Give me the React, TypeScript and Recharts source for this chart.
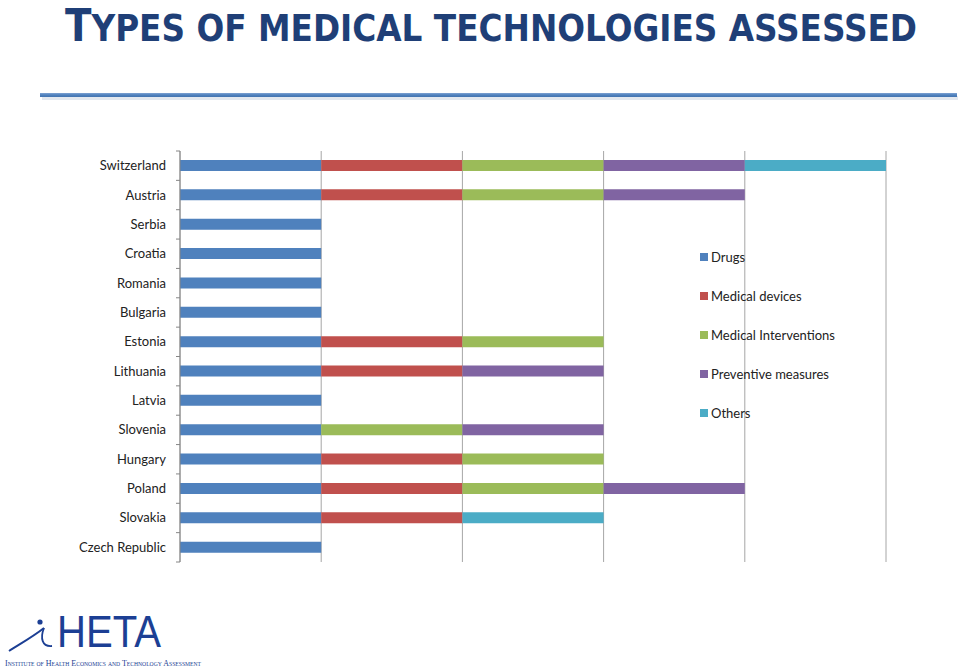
import React from "react";
import { BarChart, Bar, XAxis, YAxis, CartesianGrid } from "recharts";

const countries = [
  "Switzerland", "Austria", "Serbia", "Croatia", "Romania", "Bulgaria", "Estonia",
  "Lithuania", "Latvia", "Slovenia", "Hungary", "Poland", "Slovakia", "Czech Republic",
];
const drugs = [1, 1, 1, 1, 1, 1, 1, 1, 1, 1, 1, 1, 1, 1];
const medicalDevices = [1, 1, 0, 0, 0, 0, 1, 1, 0, 0, 1, 1, 1, 0];
const medicalInterventions = [1, 1, 0, 0, 0, 0, 1, 0, 0, 1, 1, 1, 0, 0];
const preventiveMeasures = [1, 1, 0, 0, 0, 0, 0, 1, 0, 1, 0, 1, 0, 0];
const others = [1, 0, 0, 0, 0, 0, 0, 0, 0, 0, 0, 0, 1, 0];
const xTicks = [0, 1, 2, 3, 4, 5];

const series = [
  { key: "drugs", name: "Drugs", color: "#4F81BD", values: drugs },
  { key: "md", name: "Medical devices", color: "#C0504D", values: medicalDevices },
  { key: "mi", name: "Medical Interventions", color: "#9BBB59", values: medicalInterventions },
  { key: "pm", name: "Preventive measures", color: "#8064A2", values: preventiveMeasures },
  { key: "oth", name: "Others", color: "#4BACC6", values: others },
];

const data = countries.map((c, i) => {
  const row: any = { country: c };
  series.forEach((s) => (row[s.key] = s.values[i]));
  return row;
});

const FONT = "Lato, 'Open Sans', sans-serif";

const YTick = (props: any) => {
  const { x, y, payload } = props;
  const half = payload && payload.offset ? payload.offset : 29.36 / 2;
  return (
    <g>
      <text x={x} y={y} dy={4.5} textAnchor="end" fontSize={13} fontFamily={FONT} fill="#222">
        {payload.value}
      </text>
      <line x1={x + 10} x2={x + 14} y1={y - half} y2={y - half} stroke="#868686" />
      {payload.index === countries.length - 1 && (
        <line x1={x + 10} x2={x + 14} y1={y + half} y2={y + half} stroke="#868686" />
      )}
    </g>
  );
};

export default function App() {
  return (
    <div style={{ position: "absolute", left: 0, top: 0, width: 960, height: 669, background: "#fff", overflow: "hidden" }}>
      <svg width={960} height={669} style={{ position: "absolute", left: 0, top: 0 }}>
        <defs>
          <linearGradient id="lineg" x1="0" y1="0" x2="0" y2="1">
            <stop offset="0" stopColor="#7FA3D3" />
            <stop offset="0.5" stopColor="#4F81BD" />
            <stop offset="1" stopColor="#4474B0" />
          </linearGradient>
        </defs>
        <text
          x={65}
          y={41}
          fill="#1F3F77"
          fontFamily="'Liberation Sans Narrow', 'DejaVu Sans Condensed', sans-serif"
          fontWeight="bold"
          textLength={852}
          lengthAdjust="spacingAndGlyphs"
        >
          <tspan fontSize={45}>T</tspan>
          <tspan fontSize={38}>YPES OF MEDICAL TECHNOLOGIES ASSESSED</tspan>
        </text>
        <rect x={42} y={96} width={916} height={4} fill="#D0D8E4" opacity={0.6} />
        <rect x={40} y={93} width={917} height={4} fill="url(#lineg)" />

        {/* logo */}
        <path d="M 9 651 C 20 644, 34 636, 44 628" stroke="#1C3F94" strokeWidth={2} fill="none" />
        <path d="M 44 628 C 40 638, 42 647, 52 646" stroke="#1C3F94" strokeWidth={1.8} fill="none" />
        <circle cx={40} cy={622} r={2.6} fill="#1C3F94" />
        <text x={57} y={647} fill="#1C3F94" fontFamily="'Liberation Sans', Arial, sans-serif" fontSize={45} textLength={104} lengthAdjust="spacingAndGlyphs">
          HETA
        </text>
        <text x={5} y={666} fill="#1C3F94" fontFamily="'Liberation Serif', serif" fontSize={8.5} style={{ fontVariant: "small-caps" }} textLength={196} lengthAdjust="spacingAndGlyphs">
          Institute of Health Economics and Technology Assessment
        </text>
      </svg>
      <div style={{ position: "absolute", left: 0, top: 0 }}>
        <BarChart
          width={960}
          height={669}
          data={data}
          layout="vertical"
          margin={{ top: 151, right: 74, bottom: 107, left: 0 }}
          barSize={11}
        >
          <CartesianGrid horizontal={false} vertical={true} stroke="#A6A6A6" />
          <XAxis type="number" domain={[0, 5]} ticks={xTicks} hide />
          <YAxis
            type="category"
            dataKey="country"
            width={180}
            tickSize={4}
            tickMargin={10}
            tickLine={false}
            axisLine={{ stroke: "#868686" }}
            tick={<YTick />}
            interval={0}
          />
          {series.map((s) => (
            <Bar key={s.key} dataKey={s.key} name={s.name} stackId="a" fill={s.color} isAnimationActive={false} />
          ))}
        </BarChart>
      </div>
      <div style={{ position: "absolute", left: 700, top: 249, fontFamily: FONT, fontSize: 13, color: "#222" }}>
        {series.map((it) => (
          <div key={it.key} style={{ height: 39, display: "flex", alignItems: "flex-start" }}>
            <span
              style={{ display: "inline-block", width: 8, height: 8, background: it.color, marginTop: 4, marginRight: 3 }}
            />
            <span style={{ lineHeight: "16px" }}>{it.name}</span>
          </div>
        ))}
      </div>
    </div>
  );
}
